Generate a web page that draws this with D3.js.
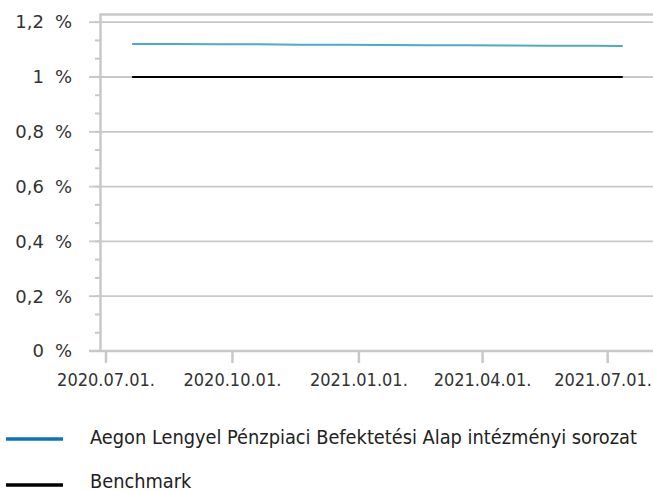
<!doctype html>
<html>

<head>
    <meta charset="utf-8">
    <title>Aegon Lengyel Pénzpiaci</title>
    <script type="text/javascript" src="https://cdn.jsdelivr.net/npm/d3@7"></script>
    <style type="text/css">
        html,
        body {
            margin: 0;
            padding: 0;
            background: #fff;
        }

        #chart svg {
            display: block;
        }

        .x-label {
            font-family: "DejaVu Sans Condensed", "DejaVu Sans", sans-serif;
            font-size: 18px;
            fill: #333;
        }

        .y-label {
            font-family: "DejaVu Sans", sans-serif;
            font-size: 18px;
            fill: #333;
        }

        .legend-label {
            font-family: "DejaVu Sans Condensed", "DejaVu Sans", sans-serif;
            font-size: 19.8px;
            fill: #222;
        }
    </style>
</head>

<body>
    <div id="chart"></div>

    <script type="text/javascript">
        // data
        var dates = ["2020-07-20", "2020-08-20", "2020-09-20", "2020-10-20", "2020-11-20", "2020-12-20",
            "2021-01-20", "2021-02-20", "2021-03-20", "2021-04-20", "2021-05-20", "2021-06-20", "2021-07-12"]
        var fundValues = [1.120, 1.120, 1.119, 1.119, 1.118, 1.118, 1.117, 1.116, 1.116, 1.115, 1.114, 1.114, 1.113]
        var benchValues = [1.0, 1.0, 1.0, 1.0, 1.0, 1.0, 1.0, 1.0, 1.0, 1.0, 1.0, 1.0, 1.0]
        var yTicks = [0, 0.2, 0.4, 0.6, 0.8, 1.0, 1.2]
        var xTicks = ["2020-07-01", "2020-10-01", "2021-01-01", "2021-04-01", "2021-07-01"]
        var seriesNames = ["Aegon Lengyel Pénzpiaci Befektetési Alap intézményi sorozat", "Benchmark"]

        var width = 653, height = 491
        var parse = d3.timeParse("%Y-%m-%d")
        var fmtDate = d3.timeFormat("%Y.%m.%d.")
        var gridColor = "#c8c8c8"

        var svg = d3.select("#chart").append("svg")
            .attr("width", width)
            .attr("height", height)

        var x = d3.scaleTime()
            .domain([parse("2020-06-27"), parse("2021-08-03")])
            .range([100.5, 653])

        var y = d3.scaleLinear()
            .domain([0, 1.228])
            .range([351, 14.5])

        // minor ticks on the value axis
        var minor = d3.range(0, 1.2001, 0.2 / 3)
        svg.append("g").selectAll("line")
            .data(minor)
            .join("line")
            .attr("x1", 95).attr("x2", 100.5)
            .attr("y1", d => y(d)).attr("y2", d => y(d))
            .attr("stroke", gridColor).attr("stroke-width", 2)

        // gridlines + major ticks
        svg.append("g").selectAll("line")
            .data(yTicks)
            .join("line")
            .attr("x1", 89).attr("x2", width)
            .attr("y1", d => y(d)).attr("y2", d => y(d))
            .attr("stroke", gridColor).attr("stroke-width", d => d === 0 ? 2.5 : 1.8)

        // top border
        svg.append("line")
            .attr("x1", x.range()[0]).attr("x2", width)
            .attr("y1", y.range()[1]).attr("y2", y.range()[1])
            .attr("stroke", gridColor).attr("stroke-width", 2.5)

        // value axis line
        svg.append("line")
            .attr("x1", x.range()[0]).attr("x2", x.range()[0])
            .attr("y1", y.range()[1] - 1.2).attr("y2", y(0))
            .attr("stroke", gridColor).attr("stroke-width", 2.5)

        // y labels: number right aligned, then "%"
        var yl = svg.append("g").selectAll("g")
            .data(yTicks)
            .join("g")
            .attr("transform", d => "translate(0," + y(d) + ")")
        yl.append("text")
            .attr("class", "y-label")
            .attr("x", 44)
            .attr("dy", "0.35em")
            .attr("text-anchor", "end")
            .text(d => d3.format(".1~f")(d).replace(".", ","))
        yl.append("text")
            .attr("class", "y-label")
            .attr("x", 55)
            .attr("dy", "0.35em")
            .text("%")

        // date ticks
        var xt = svg.append("g").selectAll("g")
            .data(xTicks.map(parse))
            .join("g")
            .attr("transform", d => "translate(" + x(d) + ",0)")
        xt.append("line")
            .attr("y1", y(0)).attr("y2", y(0) + 12)
            .attr("stroke", gridColor).attr("stroke-width", 2.5)
        xt.append("text")
            .attr("class", "x-label")
            .attr("y", 380)
            .attr("dy", "0.35em")
            .attr("text-anchor", "middle")
            .text(fmtDate)
            .each(function (d) {
                // keep the last label inside the picture, like the original does
                var w = this.getComputedTextLength()
                var over = x(d) + w / 2 - (width - 1)
                if (over > 0) d3.select(this).attr("x", -over)
            })

        // series
        var line = d3.line()
            .x(d => x(d[0]))
            .y(d => y(d[1]))

        var pDates = dates.map(parse)
        svg.append("path")
            .datum(pDates.map((d, i) => [d, benchValues[i]]))
            .attr("d", line)
            .attr("fill", "none")
            .attr("stroke", "#000")
            .attr("stroke-width", 2)

        svg.append("path")
            .datum(pDates.map((d, i) => [d, fundValues[i]]))
            .attr("d", line)
            .attr("fill", "none")
            .attr("stroke", "#4bacc6")
            .attr("stroke-width", 2)

        // legend
        var legendColors = ["#0a70c0", "#000"]
        var lg = svg.append("g").selectAll("g")
            .data(seriesNames)
            .join("g")
            .attr("transform", (d, i) => "translate(0," + (439 + i * 44) + ")")
        lg.append("line")
            .attr("x1", 6).attr("x2", 63)
            .attr("y1", (d, i) => i * 2).attr("y2", (d, i) => i * 2)
            .attr("stroke", (d, i) => legendColors[i])
            .attr("stroke-width", 3.5)
        lg.append("text")
            .attr("class", "legend-label")
            .attr("x", 90)
            .attr("dy", "0.25em")
            .text(d => d)
    </script>
</body>

</html>
